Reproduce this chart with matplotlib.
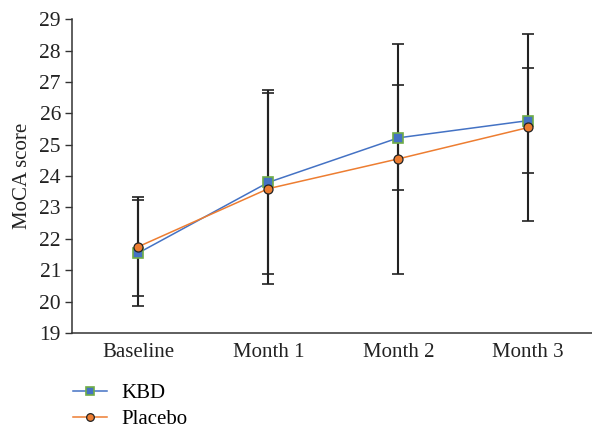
import matplotlib
matplotlib.use("Agg")
import matplotlib.pyplot as plt

plt.rcParams['font.family'] = ['Liberation Serif', 'DejaVu Serif']

visits = ["Baseline", "Month 1", "Month 2", "Month 3"]
kbd_mean = [21.55, 23.80, 25.22, 25.77]
kbd_sd = [1.70, 2.93, 1.67, 1.67]
placebo_mean = [21.75, 23.60, 24.55, 25.55]
placebo_sd = [1.57, 3.04, 3.66, 2.97]

fig = plt.figure(figsize=(5.92, 4.28), dpi=100)
ax = fig.add_axes([0.1216, 0.222, 0.8784, 0.733])

x = list(range(len(visits)))

ax.errorbar(x, placebo_mean, yerr=placebo_sd, fmt='none', ecolor='#222222',
            elinewidth=1.5, capsize=4, capthick=1.2, zorder=2)
ax.errorbar(x, kbd_mean, yerr=kbd_sd, fmt='none', ecolor='#222222',
            elinewidth=1.5, capsize=4, capthick=1.2, zorder=2)

ax.plot(x, kbd_mean, color='#4472C4', lw=1.1, marker='s', ms=6.5,
        markerfacecolor='#4472C4', markeredgecolor='#70AD47', mew=1.2,
        label='KBD', zorder=3)
ax.plot(x, placebo_mean, color='#ED7D31', lw=1.1, marker='o', ms=6.5,
        markerfacecolor='#ED7D31', markeredgecolor='#222222', mew=0.9,
        label='Placebo', zorder=4)

ax.set_xlim(-0.51, 3.49)
ax.set_ylim(19, 29)
ax.set_yticks(range(19, 30))
ax.set_xticks(x)
ax.set_xticklabels(visits)
ax.tick_params(axis='y', labelsize=15.5, length=5, width=1, color='#333333',
               pad=3, labelcolor='#222222')
ax.tick_params(axis='x', labelsize=15, length=0, pad=7, labelcolor='#222222')
ax.set_ylabel("MoCA score", fontsize=15, color='#222222', labelpad=5)

for side in ['top', 'right']:
    ax.spines[side].set_visible(False)
for side in ['left', 'bottom']:
    ax.spines[side].set_color('#333333')
    ax.spines[side].set_linewidth(1.1)

fig.legend(loc='upper left', bbox_to_anchor=(0.123, 0.104), frameon=False,
           fontsize=15, handlelength=1.63, handletextpad=0.7,
           labelspacing=0.3, borderaxespad=0, borderpad=0, markerscale=0.85)

fig.savefig("out.png", dpi=100)
